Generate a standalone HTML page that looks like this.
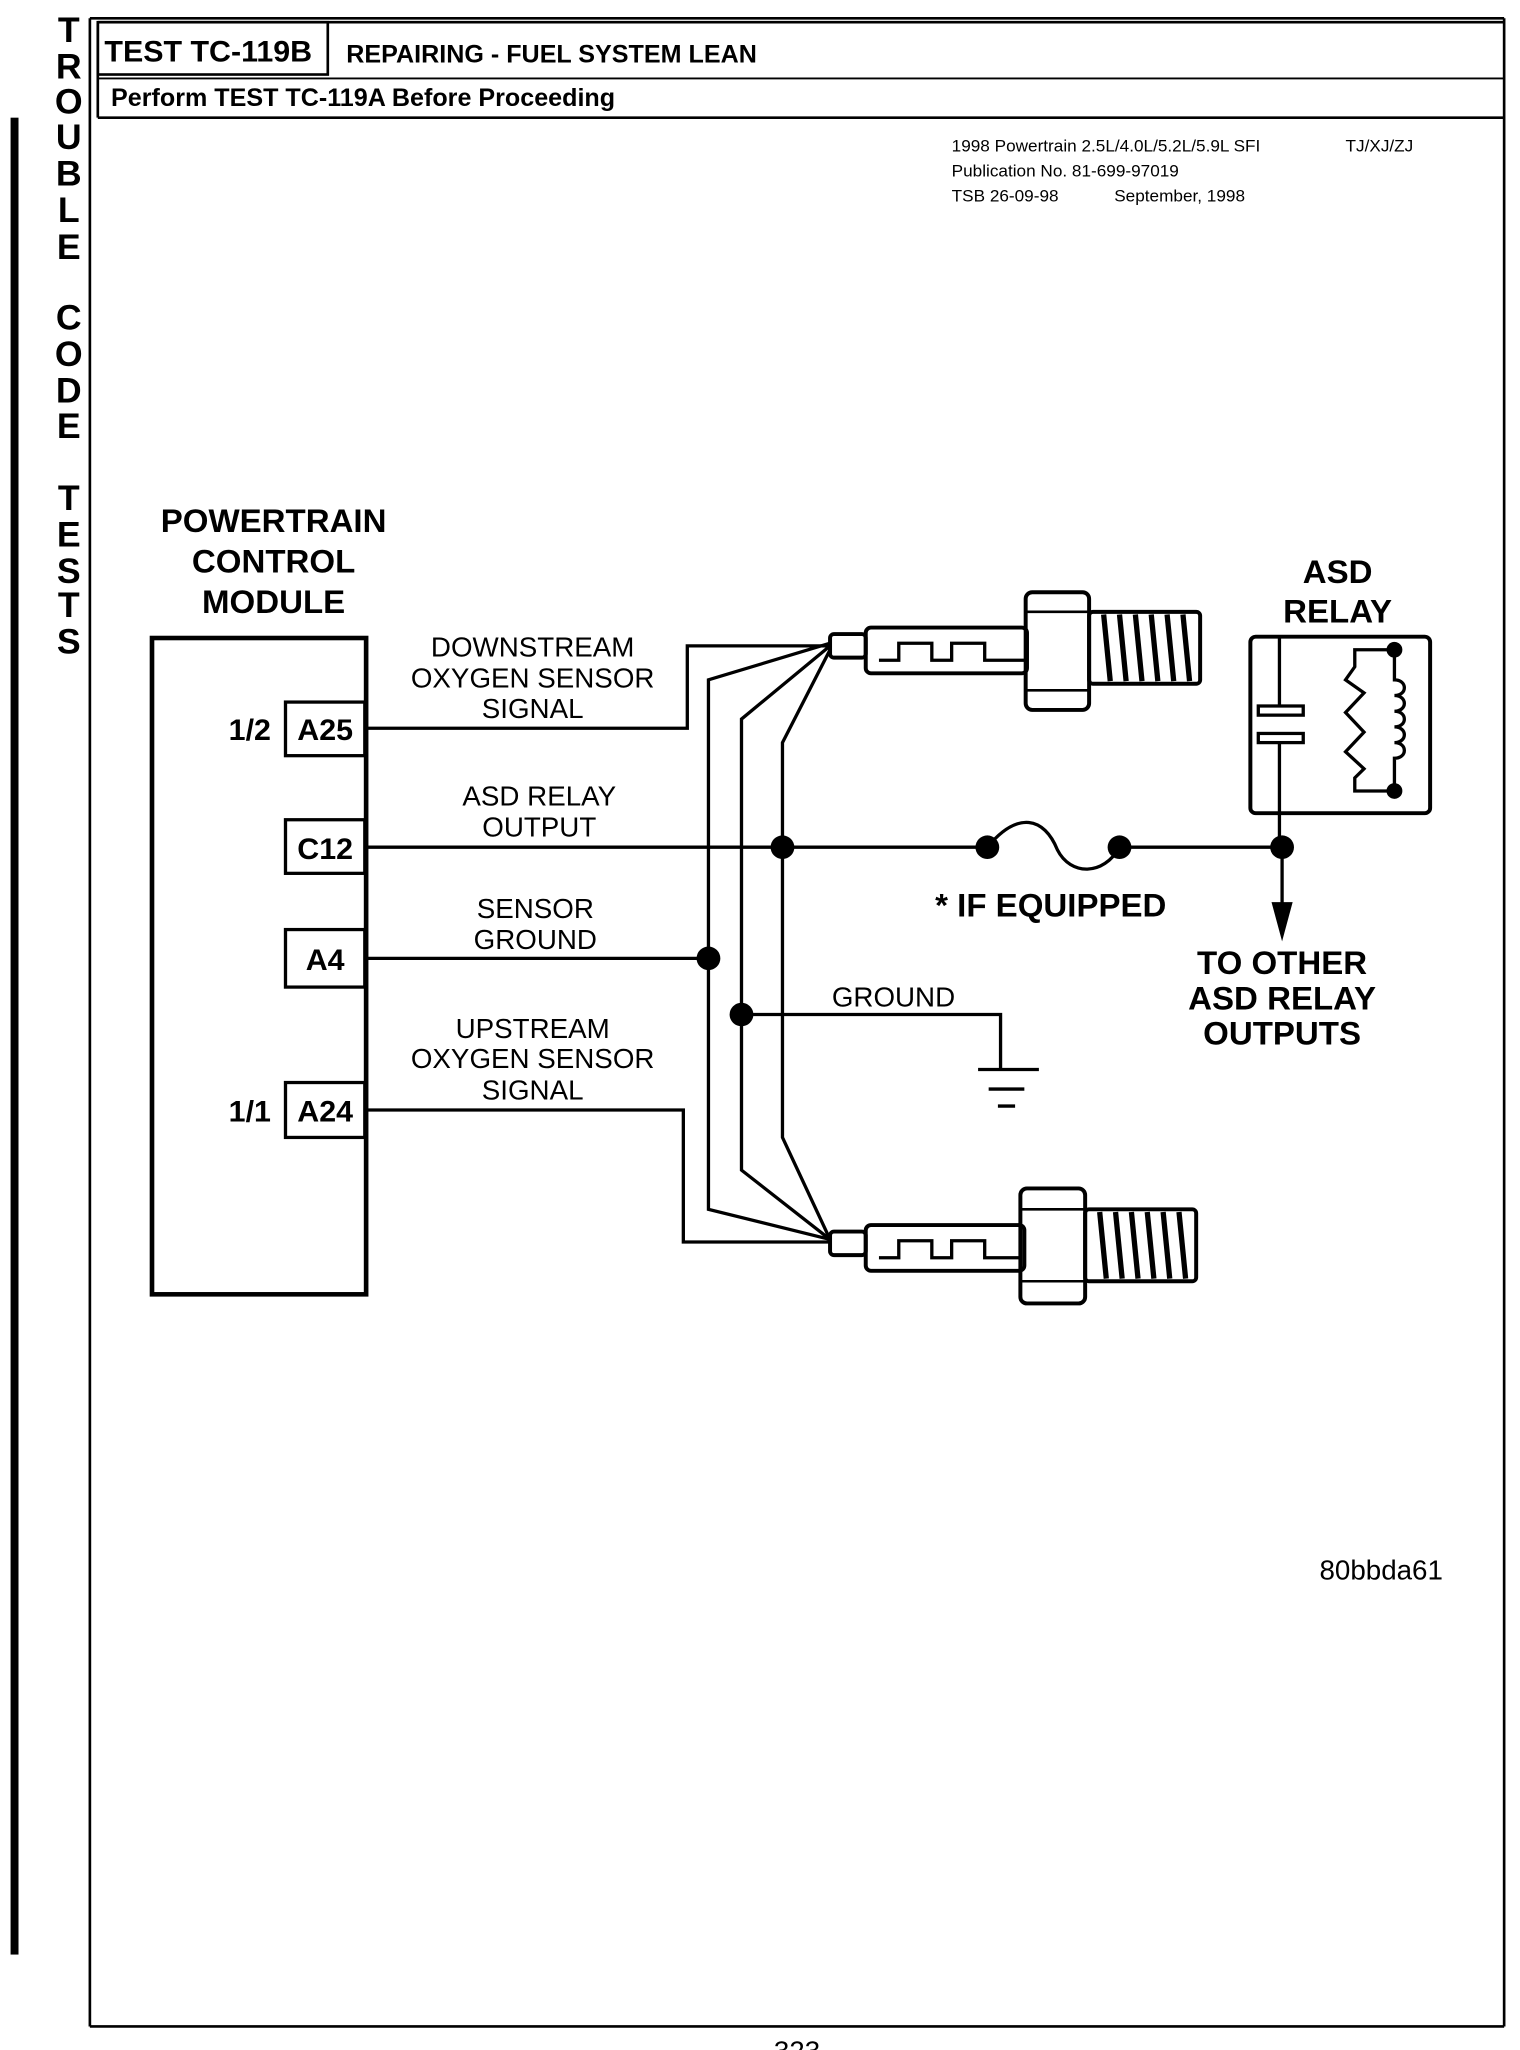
<!DOCTYPE html>
<html><head><meta charset="utf-8"><style>
html,body{margin:0;padding:0;background:#fff;}
svg{display:block;}
text{font-family:"Liberation Sans",Arial,sans-serif;fill:#000;}
.b{font-weight:bold;}
</style></head><body>
<svg width="1520" height="2050" viewBox="0 0 1150 1568" preserveAspectRatio="none" xmlns="http://www.w3.org/2000/svg">
<rect x="0" y="0" width="1150" height="1568" fill="#fff"/>
<!-- left bar -->
<rect x="8" y="90" width="6" height="1405" fill="#000"/>
<!-- vertical letters -->
<g class="b" font-size="27" text-anchor="middle" font-weight="bold">
<text x="52" y="32" class="b">T</text><text x="52" y="60" class="b">R</text><text x="52" y="87" class="b">O</text><text x="52" y="114" class="b">U</text><text x="52" y="142" class="b">B</text><text x="52" y="170" class="b">L</text><text x="52" y="198" class="b">E</text>
<text x="52" y="252" class="b">C</text><text x="52" y="280" class="b">O</text><text x="52" y="308" class="b">D</text><text x="52" y="335" class="b">E</text>
<text x="52" y="390" class="b">T</text><text x="52" y="418" class="b">E</text><text x="52" y="446" class="b">S</text><text x="52" y="472" class="b">T</text><text x="52" y="500" class="b">S</text>
</g>
<!-- frame -->
<g fill="none" stroke="#000" stroke-width="2">
<line x1="68" y1="14" x2="1138" y2="14"/>
<line x1="68" y1="14" x2="68" y2="1550"/>
<line x1="1138" y1="14" x2="1138" y2="1550"/>
<line x1="68" y1="1550" x2="1138" y2="1550"/>
<line x1="74" y1="17" x2="74" y2="90"/>
<line x1="74" y1="17" x2="1138" y2="17"/>
<rect x="74" y="17" width="174" height="40"/>
<line x1="74" y1="60" x2="1138" y2="60" stroke-width="1.5"/>
<line x1="74" y1="90" x2="1138" y2="90"/>
</g>
<text x="79" y="47" font-size="23" class="b">TEST TC-119B</text>
<text x="262" y="48" font-size="19" class="b">REPAIRING - FUEL SYSTEM LEAN</text>
<text x="84" y="81" font-size="19" class="b">Perform TEST TC-119A Before Proceeding</text>
<g font-size="13">
<text x="720" y="116">1998 Powertrain 2.5L/4.0L/5.2L/5.9L SFI</text>
<text x="1018" y="116">TJ/XJ/ZJ</text>
<text x="720" y="135">Publication No. 81-699-97019</text>
<text x="720" y="154">TSB 26-09-98</text><text x="843" y="154">September, 1998</text>
</g>
<!-- PCM -->
<g font-size="25" class="b" text-anchor="middle">
<text x="207" y="407">POWERTRAIN</text>
<text x="207" y="438">CONTROL</text>
<text x="207" y="469">MODULE</text>
</g>
<g fill="none" stroke="#000">
<rect x="115" y="488" width="162" height="502" stroke-width="3.5"/>
<rect x="216" y="537" width="60" height="41" stroke-width="2.5"/>
<rect x="216" y="627" width="60" height="41" stroke-width="2.5"/>
<rect x="216" y="711" width="60" height="44" stroke-width="2.5"/>
<rect x="216" y="828" width="60" height="42" stroke-width="2.5"/>
</g>
<g font-size="23" class="b" text-anchor="middle">
<text x="246" y="566">A25</text><text x="246" y="657">C12</text><text x="246" y="742">A4</text><text x="246" y="858">A24</text>
<text x="189" y="566">1/2</text><text x="189" y="858">1/1</text>
</g>
<!-- wires -->
<g fill="none" stroke="#000" stroke-width="2.5">
<polyline points="277,557 520,557 520,494 628,494"/>
<line x1="277" y1="648" x2="747" y2="648"/>
<line x1="847" y1="648" x2="970" y2="648"/>
<path d="M747,648 C770,620 790,625 800,650 C810,670 835,670 847,648"/>
<line x1="277" y1="733" x2="536" y2="733"/>
<polyline points="561,776 757,776 757,818"/>
<line x1="740" y1="818" x2="786" y2="818"/>
<line x1="748" y1="833" x2="775" y2="833"/>
<line x1="755" y1="846" x2="768" y2="846"/>
<polyline points="277,849 517,849 517,950 628,950"/>
<polyline points="628,492 536,520 536,925 628,948"/>
<polyline points="628,494 561,550 561,895 628,948"/>
<polyline points="628,497 592,568 592,870 628,948"/>
<line x1="970" y1="648" x2="970" y2="695"/>
</g>
<polygon points="962,690 978,690 970,720" fill="#000"/>
<g fill="#000">
<circle cx="592" cy="648" r="9"/><circle cx="747" cy="648" r="9"/><circle cx="847" cy="648" r="9"/><circle cx="970" cy="648" r="9"/>
<circle cx="536" cy="733" r="9"/><circle cx="561" cy="776" r="9"/>
</g>
<!-- sensors -->
<g fill="none" stroke="#000" stroke-width="3">
<rect x="628" y="485" width="27" height="18" rx="3"/>
<rect x="655" y="480" width="122" height="35" rx="4"/>
<polyline points="665,505 680,505 680,492 705,492 705,505 720,505 720,492 745,492 745,505 775,505" stroke-width="2.5"/>
<rect x="776" y="453" width="48" height="90" rx="5"/>
<line x1="776" y1="468" x2="824" y2="468" stroke-width="2"/><line x1="776" y1="528" x2="824" y2="528" stroke-width="2"/>
<rect x="824" y="468" width="84" height="55" rx="3"/>
<rect x="628" y="942" width="27" height="18" rx="3"/>
<rect x="655" y="937" width="120" height="35" rx="4"/>
<polyline points="665,962 680,962 680,949 705,949 705,962 720,962 720,949 745,949 745,962 773,962" stroke-width="2.5"/>
<rect x="772" y="909" width="49" height="88" rx="5"/>
<line x1="772" y1="925" x2="821" y2="925" stroke-width="2"/><line x1="772" y1="980" x2="821" y2="980" stroke-width="2"/>
<rect x="821" y="925" width="84" height="55" rx="3"/>
</g>
<g stroke="#000" stroke-width="4">
<line x1="835" y1="470" x2="840" y2="521"/><line x1="847" y1="470" x2="852" y2="521"/><line x1="859" y1="470" x2="864" y2="521"/><line x1="871" y1="470" x2="876" y2="521"/><line x1="883" y1="470" x2="888" y2="521"/><line x1="895" y1="470" x2="900" y2="521"/>
<line x1="832" y1="927" x2="837" y2="978"/><line x1="844" y1="927" x2="849" y2="978"/><line x1="856" y1="927" x2="861" y2="978"/><line x1="868" y1="927" x2="873" y2="978"/><line x1="880" y1="927" x2="885" y2="978"/><line x1="892" y1="927" x2="897" y2="978"/>
</g>
<!-- relay -->
<g font-size="25" class="b" text-anchor="middle">
<text x="1012" y="446">ASD</text><text x="1012" y="476">RELAY</text>
</g>
<g fill="none" stroke="#000" stroke-width="3">
<rect x="946" y="487" width="136" height="135" rx="4"/>
<line x1="968" y1="487" x2="968" y2="540" stroke-width="2.5"/>
<rect x="952" y="540" width="34" height="7" stroke-width="2.5"/>
<rect x="952" y="561" width="34" height="7" stroke-width="2.5"/>
<line x1="968" y1="568" x2="968" y2="648" stroke-width="2.5"/>
<polyline points="1055,497 1025,497 1025,510 1018,520 1032,530 1018,545 1032,560 1018,575 1032,588 1025,595 1025,605 1055,605" stroke-width="2.5"/>
<path d="M1055,497 L1055,520 c10,0 10,12 0,12 c10,0 10,12 0,12 c10,0 10,12 0,12 c10,0 10,12 0,12 c10,0 10,12 0,12 L1055,605" stroke-width="2.5"/>
</g>
<circle cx="1055" cy="497" r="6" fill="#000"/><circle cx="1055" cy="605" r="6" fill="#000"/>
<!-- labels -->
<g font-size="21" text-anchor="middle">
<text x="403" y="502">DOWNSTREAM</text><text x="403" y="526">OXYGEN SENSOR</text><text x="403" y="549">SIGNAL</text>
<text x="408" y="616">ASD RELAY</text><text x="408" y="640">OUTPUT</text>
<text x="405" y="702">SENSOR</text><text x="405" y="726">GROUND</text>
<text x="676" y="770">GROUND</text>
<text x="403" y="794">UPSTREAM</text><text x="403" y="817">OXYGEN SENSOR</text><text x="403" y="841">SIGNAL</text>
<text x="1045" y="1208">80bbda61</text>
<text x="603" y="1576">323</text>
</g>
<g font-size="25" class="b" text-anchor="middle">
<text x="795" y="701">* IF EQUIPPED</text>
<text x="970" y="745">TO OTHER</text><text x="970" y="772">ASD RELAY</text><text x="970" y="799">OUTPUTS</text>
</g>
</svg>
</body></html>
